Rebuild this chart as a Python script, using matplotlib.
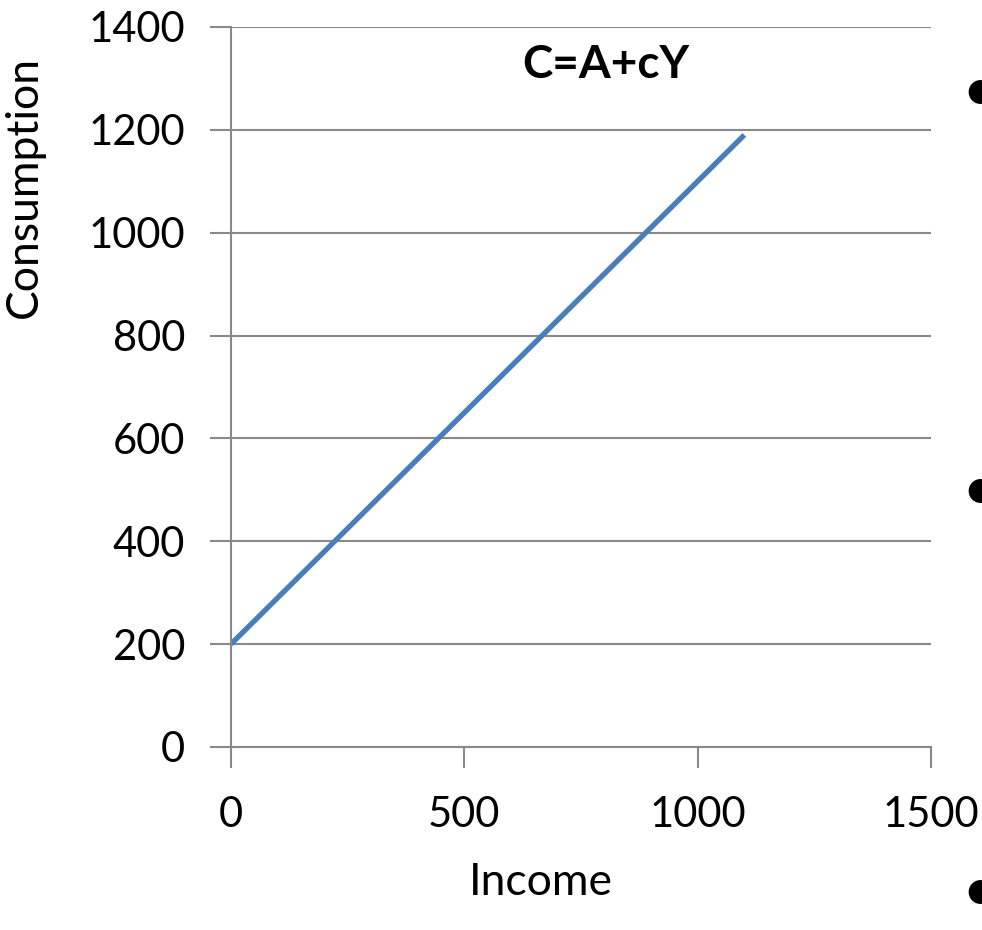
import matplotlib
matplotlib.use('Agg')
import matplotlib.pyplot as plt

# data
income = [0, 1100]
consumption = [200, 1190]
x_ticks = [0, 500, 1000, 1500]
y_ticks = [0, 200, 400, 600, 800, 1000, 1200, 1400]

plt.rcParams['font.family'] = ['Lato', 'DejaVu Sans']

fig = plt.figure(figsize=(9.82, 9.30), dpi=100)
ax = fig.add_axes([0.2352, 0.1968, 0.9481 - 0.2352, 0.971 - 0.1968])

grid_col = '#898989'
ax.plot(income, consumption, color='#4a7ebb', lw=3.8, solid_capstyle='butt')

ax.set_xlim(0, 1500)
ax.set_ylim(0, 1400)
ax.set_xticks(x_ticks)
ax.set_yticks(y_ticks)
ax.yaxis.grid(True, color=grid_col, lw=1.5)
ax.set_axisbelow(True)

for s in ['top', 'right']:
    ax.spines[s].set_visible(False)
for s in ['left', 'bottom']:
    ax.spines[s].set_color(grid_col)
    ax.spines[s].set_linewidth(1.5)

ax.tick_params(axis='both', colors=grid_col, labelcolor='black', labelsize=30,
               length=15, width=1.5, direction='out')
ax.tick_params(axis='x', pad=20)
ax.tick_params(axis='y', pad=18)

ax.set_xlabel('Income', fontsize=32)
ax.set_ylabel('Consumption', fontsize=32)
ax.xaxis.set_label_coords(0.443, -0.16)
ax.yaxis.set_label_coords(-0.266, 0.778)

ax.text(803, 1327, 'C=A+cY', fontsize=33, fontweight='bold', ha='center', va='center')

# slide bullets cut off at the right edge
for yb in [0.90, 0.471, 0.04]:
    fig.text(0.998, yb, '\u2022', fontsize=46, ha='center', va='center', color='black')

fig.savefig('out.png', dpi=100)
